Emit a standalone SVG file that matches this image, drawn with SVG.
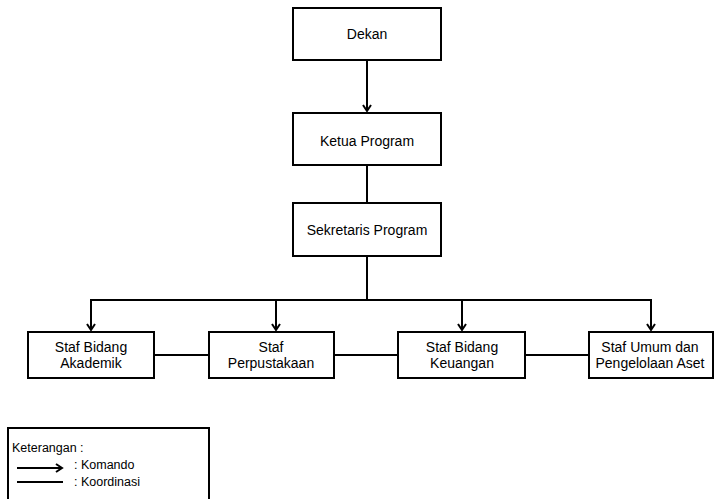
<svg xmlns="http://www.w3.org/2000/svg" width="714" height="499" viewBox="0 0 714 499">
<defs>
<marker id="ah" markerWidth="10" markerHeight="10" refX="7" refY="5" orient="auto" markerUnits="userSpaceOnUse">
<path d="M1,1 L7,5 L1,9" fill="none" stroke="#000" stroke-width="2"/>
</marker>
<style>
.box{fill:#fff;stroke:#000;stroke-width:2}
.t{font-family:"Liberation Sans",Arial,sans-serif;font-size:14px;fill:#000;text-anchor:middle}
.tl{font-family:"Liberation Sans",Arial,sans-serif;font-size:12.5px;fill:#000}
.ln{stroke:#000;stroke-width:2;fill:none}
</style>
</defs>
<rect width="714" height="499" fill="#fff"/>
<g id="connectors">
<line class="ln" x1="367" y1="60" x2="367" y2="111" marker-end="url(#ah)"/>
<line class="ln" x1="367" y1="165" x2="367" y2="203"/>
<polyline class="ln" points="367,256 367,300"/>
<line class="ln" x1="91" y1="300" x2="651" y2="300"/>
<line class="ln" x1="91" y1="299" x2="91" y2="330" marker-end="url(#ah)"/>
<line class="ln" x1="276" y1="300" x2="276" y2="330" marker-end="url(#ah)"/>
<line class="ln" x1="462" y1="300" x2="462" y2="330" marker-end="url(#ah)"/>
<line class="ln" x1="651" y1="299" x2="651" y2="330" marker-end="url(#ah)"/>
<line class="ln" x1="154" y1="355" x2="209" y2="355"/>
<line class="ln" x1="334" y1="355" x2="398" y2="355"/>
<line class="ln" x1="525" y1="355" x2="589" y2="355"/>
</g>
<g id="dekan"><rect class="box" x="293" y="8" width="148" height="52"/><text class="t" x="367" y="39">Dekan</text></g>
<g id="ketua"><rect class="box" x="293" y="113" width="148" height="52"/><text class="t" x="367" y="146">Ketua Program</text></g>
<g id="sekretaris"><rect class="box" x="293" y="203" width="148" height="53"/><text class="t" x="367" y="235">Sekretaris Program</text></g>
<g id="akademik"><rect class="box" x="28" y="332" width="126" height="46"/><text class="t" x="91" y="352">Staf Bidang</text><text class="t" x="91" y="368">Akademik</text></g>
<g id="perpustakaan"><rect class="box" x="209" y="332" width="125" height="46"/><text class="t" x="271" y="352">Staf</text><text class="t" x="271" y="368">Perpustakaan</text></g>
<g id="keuangan"><rect class="box" x="398" y="332" width="127" height="46"/><text class="t" x="462" y="352">Staf  Bidang</text><text class="t" x="462" y="368">Keuangan</text></g>
<g id="umum"><rect class="box" x="589" y="332" width="124" height="46"/><text class="t" x="650" y="352">Staf Umum dan</text><text class="t" x="650" y="368">Pengelolaan Aset</text></g>
<g id="legend">
<rect class="box" x="8" y="428" width="201" height="76"/>
<text class="tl" x="12" y="452">Keterangan :</text>
<line class="ln" x1="17" y1="468" x2="62" y2="468" marker-end="url(#ah)"/>
<text class="tl" x="74" y="469">: Komando</text>
<line class="ln" x1="17" y1="482" x2="63" y2="482"/>
<text class="tl" x="74" y="486">: Koordinasi</text>
</g>
</svg>
